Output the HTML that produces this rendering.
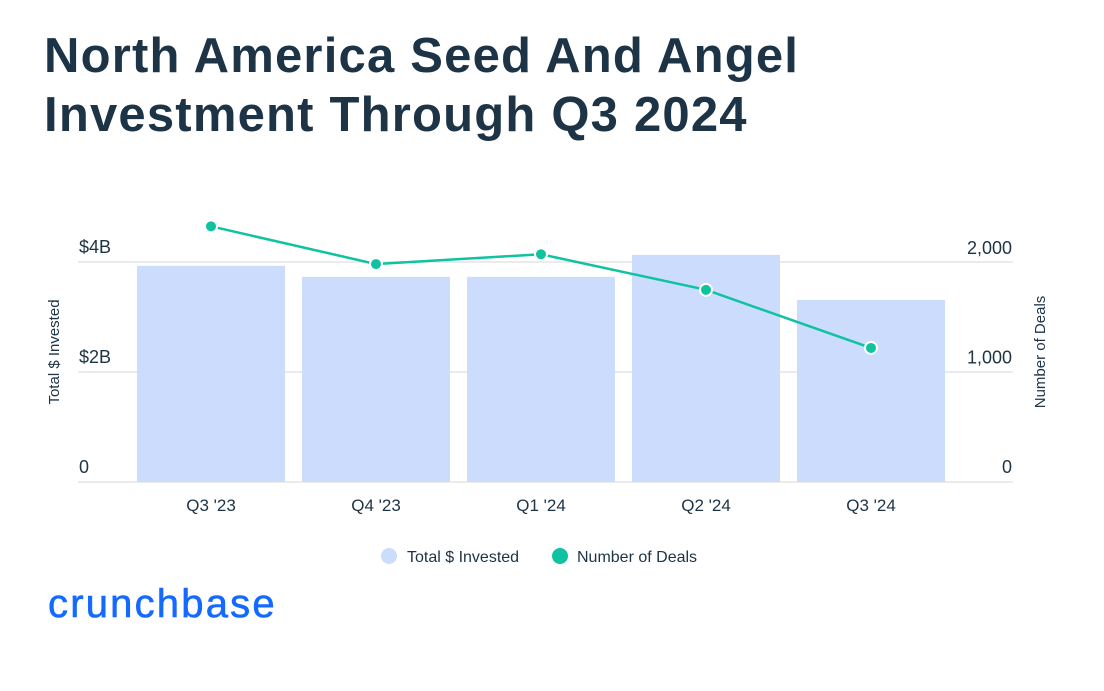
<!DOCTYPE html>
<html><head><meta charset="utf-8"><style>
body{margin:0;width:1104px;height:691px;background:#fff;font-family:"Liberation Sans",sans-serif;overflow:hidden;position:relative}
h1{position:absolute;left:44px;top:27px;margin:0;font-size:49px;line-height:59px;font-weight:bold;color:#1d3346;letter-spacing:1.2px}
.logo{position:absolute;left:48px;top:582px;font-size:40px;color:#146aff;font-weight:normal;letter-spacing:2.2px;-webkit-text-stroke:0.6px #146aff}
</style></head><body>
<h1>North America Seed And Angel<br>Investment Through Q3 2024</h1>
<svg id="chart" width="1104" height="691" style="position:absolute;left:0;top:0"></svg>
<div class="logo">crunchbase</div>
<script>
const categories=["Q3 '23","Q4 '23","Q1 '24","Q2 '24","Q3 '24"];
const invested=[3.93,3.73,3.73,4.13,3.31];
const deals=[2335,1990,2080,1755,1224];
const leftTicks=[0,2,4];
const leftTickLabels=["0","$2B","$4B"];
const rightTicks=[0,1000,2000];
const rightTickLabels=["0","1,000","2,000"];
const NS="http://www.w3.org/2000/svg";
const svg=document.getElementById('chart');
const y0=482, x0=128.5, band=165;
const yL=v=>y0-v*55;
const yR=v=>y0-v*0.1095;
const xC=i=>x0+band*(i+0.5);
function mk(t,a){const e=document.createElementNS(NS,t);for(const k in a)e.setAttribute(k,a[k]);svg.appendChild(e);return e;}
leftTicks.forEach((v,i)=>{
 const g=mk('line',{x1:78,x2:1013,y1:yL(v),y2:yL(v),stroke:'#ebebeb','stroke-width':2});
 
 
 const t=mk('text',{x:79,y:yL(v)-9,'font-size':18,fill:'#1d3346'});t.textContent=leftTickLabels[i];
 
 
});
rightTicks.forEach((v,i)=>{
 const t=mk('text',{x:1012,y:yR(v)-9,'font-size':18,fill:'#1d3346','text-anchor':'end'});t.textContent=rightTickLabels[i];
 
 
});
invested.forEach((v,i)=>{
 const r=mk('rect',{x:xC(i)-74,y:yL(v),width:148,height:y0-yL(v),fill:'#cbdcfc'});
 
 
 const t=mk('text',{x:xC(i),y:511,'font-size':17,fill:'#1d3346','text-anchor':'middle'});t.textContent=categories[i];
 
 
});
const pl=mk('polyline',{points:deals.map((d,i)=>xC(i)+','+yR(d)).join(' '),fill:'none',stroke:'#0fc2a0','stroke-width':2.5});


deals.forEach((d,i)=>{
 const c=mk('circle',{cx:xC(i),cy:yR(d),r:6,fill:'#0fc2a0',stroke:'#fff','stroke-width':2});
 
 
});
let t=mk('text',{x:0,y:0,'font-size':15,fill:'#1d3346','text-anchor':'middle',transform:'translate(59,352) rotate(-90)'});t.textContent='Total $ Invested';


t=mk('text',{x:0,y:0,'font-size':15,fill:'#1d3346','text-anchor':'middle',transform:'translate(1045,352) rotate(-90)'});t.textContent='Number of Deals';


let c=mk('circle',{cx:389,cy:556,r:8,fill:'#cbdcfc'});


t=mk('text',{x:407,y:562,'font-size':16,fill:'#1d3346'});t.textContent='Total $ Invested';


c=mk('circle',{cx:560,cy:556,r:8,fill:'#0fc2a0'});


t=mk('text',{x:577,y:562,'font-size':16,fill:'#1d3346'});t.textContent='Number of Deals';


</script>
</body></html>
